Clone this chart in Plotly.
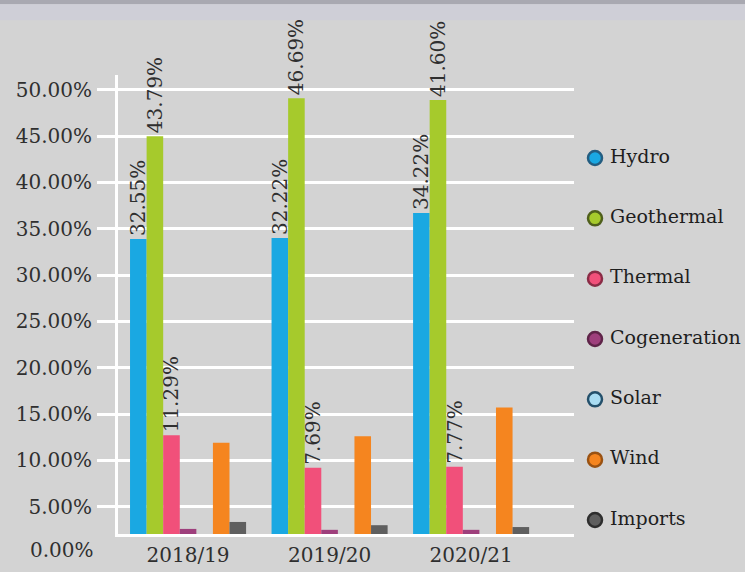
import plotly.graph_objects as go

years = ["2018/19", "2019/20", "2020/21"]
series = ["Hydro", "Geothermal", "Thermal", "Cogeneration", "Solar", "Wind", "Imports"]
colors = ["#1aa8e2", "#a6ca2c", "#f1507a", "#9e3f7c", "#a9dcf2", "#f5851f", "#5f5f5f"]
ring_colors = ["#245d80", "#4f5f1c", "#8a2c46", "#5e2448", "#24506b", "#9a5212", "#2e2e2e"]

hydro = [33.9, 34.0, 36.7]
geothermal = [45.0, 49.1, 48.9]
thermal = [12.7, 9.2, 9.3]
cogeneration = [2.6, 2.5, 2.5]
solar = [0.0, 0.0, 0.0]
wind = [11.9, 12.6, 15.7]
imports = [3.35, 3.0, 2.8]

hydro_labels = ["32.55%", "32.22%", "34.22%"]
geothermal_labels = ["43.79%", "46.69%", "41.60%"]
thermal_labels = ["11.29%", "7.69%", "7.77%"]

values = [hydro, geothermal, thermal, cogeneration, solar, wind, imports]
labels = [hydro_labels, geothermal_labels, thermal_labels, None, None, None, None]

y_ticks = [5, 10, 15, 20, 25, 30, 35, 40, 45, 50]
y_tick_text = ["5.00%", "10.00%", "15.00%", "20.00%", "25.00%", "30.00%",
               "35.00%", "40.00%", "45.00%", "50.00%"]
y_min, y_max = 2.05, 51.6

FONT = "DejaVu Serif"
BG = "#d3d3d3"
TXT = "#2f2f2f"
W, H = 745, 572
L, R, T, B = 118, 0, 75, 38
main_right_px = 574  # right edge of bar plot area
split = (main_right_px - L) / (W - L - R)

fig = go.Figure()
for name, vals, col, lab in zip(series, values, colors, labels):
    fig.add_trace(go.Bar(
        x=years, y=vals, name=name, marker=dict(color=col, line=dict(width=0)),
        text=lab, textposition="outside" if lab else "none", textangle=-90,
        constraintext="none", cliponaxis=False,
        textfont=dict(family=FONT, size=20, color=TXT),
        showlegend=False, xaxis="x", yaxis="y",
    ))

# custom legend drawn on a hidden helper axis (one row per series)
rows = list(range(len(series)))
fig.add_trace(go.Scatter(
    x=[0] * len(series), y=rows, mode="markers",
    marker=dict(symbol="circle", size=14, color=colors, line=dict(color=ring_colors, width=2.5)),
    cliponaxis=False, showlegend=False, hoverinfo="skip",
    xaxis="x2", yaxis="y2",
))
fig.add_trace(go.Scatter(
    x=[15] * len(series), y=rows, mode="text",
    text=series, textposition="middle right",
    textfont=dict(family=FONT, size=19, color="#1e1e1e"),
    cliponaxis=False, showlegend=False, hoverinfo="skip",
    xaxis="x2", yaxis="y2",
))

fig.update_layout(
    width=W, height=H,
    margin=dict(l=L, r=R, t=T, b=B, pad=0),
    paper_bgcolor=BG, plot_bgcolor=BG,
    barmode="group", bargap=0.18, bargroupgap=0,
    font=dict(family=FONT, color=TXT),
    showlegend=False,
    xaxis=dict(type="category", range=[-0.495, 2.727], domain=[0, split], showgrid=False,
               showline=True, linecolor="white", linewidth=3,
               ticks="", ticklabelstandoff=1, automargin=False,
               tickfont=dict(family=FONT, size=20, color=TXT),
               zeroline=False),
    yaxis=dict(range=[y_min, y_max], tickvals=y_ticks, ticktext=y_tick_text,
               showgrid=True, gridcolor="white", gridwidth=3,
               showline=True, linecolor="white", linewidth=3,
               ticks="outside", ticklen=18, tickwidth=3, tickcolor="white",
               ticklabelstandoff=1, automargin=False,
               tickfont=dict(family=FONT, size=20, color=TXT),
               zeroline=False),
    xaxis2=dict(domain=[split, 1], range=[-21, 150], visible=False, fixedrange=True),
    yaxis2=dict(anchor="x2", range=[6.232, -1.376], visible=False, fixedrange=True),
    annotations=[dict(text="0.00%", xref="paper", yref="paper", x=0,
                      y=(0 - y_min) / (y_max - y_min), yshift=3,
                      xanchor="right", yanchor="middle", xshift=-22, showarrow=False,
                      font=dict(family=FONT, size=20, color=TXT))],
    shapes=[
        dict(type="rect", xref="paper", yref="paper", x0=-0.3, x1=1.1,
             y0=1.163 - 4 / 459, y1=1.2, fillcolor="#a9a9b1", line=dict(width=0), layer="below"),
        dict(type="rect", xref="paper", yref="paper", x0=-0.3, x1=1.1,
             y0=1.163 - 20 / 459, y1=1.163 - 4 / 459, fillcolor="#cfcfd7", line=dict(width=0), layer="below"),
    ],
)

fig.write_html(
    "out.html",
    config={"displayModeBar": False},
    post_script="document.body.style.margin='0';document.body.style.background='" + BG + "';",
)
